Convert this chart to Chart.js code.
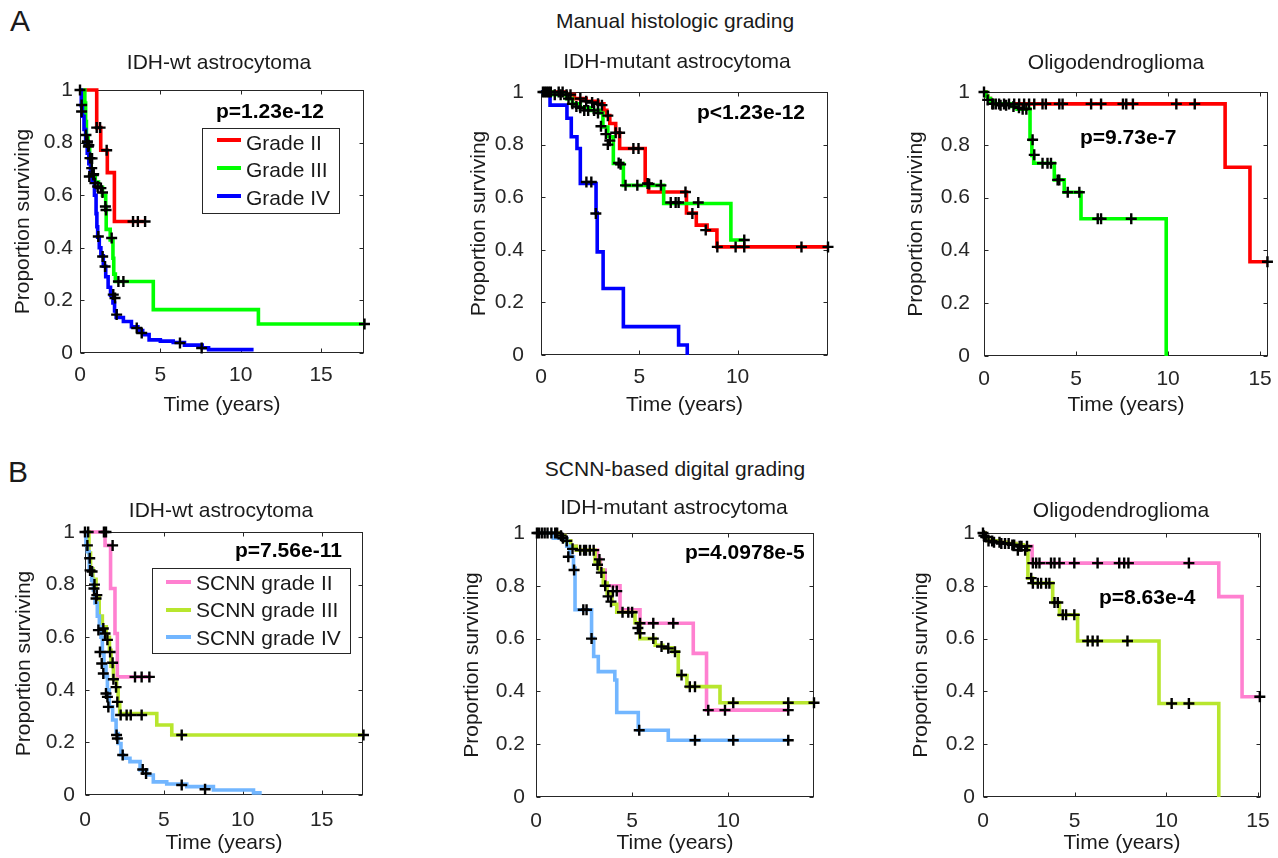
<!DOCTYPE html>
<html>
<head>
<meta charset="utf-8">
<title>Kaplan-Meier survival: manual vs SCNN grading</title>
<script src="https://cdn.jsdelivr.net/npm/chart.js@4/dist/chart.umd.min.js"></script>
<style>
  html, body { margin:0; padding:0; background:#fff; overflow:hidden; }
  #page { position:relative; width:1278px; height:858px; overflow:hidden; background:#fff;
          font-family:"Liberation Sans", Arial, Helvetica, sans-serif; color:#1a1a1a; }
  #page canvas { position:absolute; z-index:1; }
  .txt { position:absolute; white-space:nowrap; font-size:21px; line-height:21px; z-index:3; }
  .ctr { transform:translateX(-50%); }
  .bold { font-weight:bold; color:#000; }
  .big { font-size:30px; line-height:30px; }
  .legend { position:absolute; box-sizing:border-box; border:1px solid #262626; background:#fff; z-index:2; }
  .swatch { position:absolute; height:4px; z-index:3; }
</style>
</head>
<body>
<div id="page">
  <div class="txt big" style="left:10px;top:6px;">A</div>
  <div class="txt big" style="left:8px;top:457px;">B</div>
  <div class="txt ctr" style="left:675px;top:10px;">Manual histologic grading</div>
  <div class="txt ctr" style="left:675px;top:458px;">SCNN-based digital grading</div>

  <div class="txt ctr" style="left:219px;top:51px;">IDH-wt astrocytoma</div>
  <div class="txt ctr" style="left:677px;top:50px;">IDH-mutant astrocytoma</div>
  <div class="txt ctr" style="left:1116px;top:51px;">Oligodendroglioma</div>
  <div class="txt ctr" style="left:221px;top:499px;">IDH-wt astrocytoma</div>
  <div class="txt ctr" style="left:674px;top:496px;">IDH-mutant astrocytoma</div>
  <div class="txt ctr" style="left:1121px;top:499px;">Oligodendroglioma</div>

  <div class="txt bold" style="left:216px;top:100px;">p=1.23e-12</div>
  <div class="txt bold" style="left:697px;top:101px;">p&lt;1.23e-12</div>
  <div class="txt bold" style="left:1080px;top:126px;">p=9.73e-7</div>
  <div class="txt bold" style="left:235px;top:539px;">p=7.56e-11</div>
  <div class="txt bold" style="left:685px;top:541px;">p=4.0978e-5</div>
  <div class="txt bold" style="left:1099px;top:586px;">p=8.63e-4</div>

  <div class="legend" style="left:202px;top:128px;width:138px;height:86px;"></div>
  <div class="swatch" style="left:217px;top:138px;width:24px;background:#ff0000;"></div>
  <div class="swatch" style="left:217px;top:166.3px;width:24px;background:#00ff00;"></div>
  <div class="swatch" style="left:217px;top:194px;width:24px;background:#0000ff;"></div>
  <div class="txt" style="left:246px;top:132px;">Grade II</div>
  <div class="txt" style="left:246px;top:159px;">Grade III</div>
  <div class="txt" style="left:246px;top:187px;">Grade IV</div>

  <div class="legend" style="left:152px;top:568px;width:199px;height:86px;"></div>
  <div class="swatch" style="left:166px;top:579.7px;width:25px;background:#ff80d0;"></div>
  <div class="swatch" style="left:166px;top:608px;width:25px;background:#b8e62e;"></div>
  <div class="swatch" style="left:166px;top:634.7px;width:25px;background:#72b6ff;"></div>
  <div class="txt" style="left:196px;top:572px;">SCNN grade II</div>
  <div class="txt" style="left:196px;top:599px;">SCNN grade III</div>
  <div class="txt" style="left:196px;top:627px;">SCNN grade IV</div>
</div>
<script>
// ---------------- tick definitions ----------------
const xTicks = [0, 5, 10, 15];
const xTickLabels = ['0', '5', '10', '15'];
const yTicks = [0, 0.2, 0.4, 0.6, 0.8, 1];
const yTickLabels = ['0', '0.2', '0.4', '0.6', '0.8', '1'];
const xAxisTitle = 'Time (years)';
const yAxisTitle = 'Proportion surviving';

// ---------------- A: manual grading, IDH-wt astrocytoma ----------------
const A1_gradeII = [[0,1],[1.04,0.857],[1.29,0.771],[1.70,0.686],[2.14,0.5],[4.1,0.5]];
const A1_gradeII_cens = [[1.04,0.857],[1.25,0.857],[1.66,0.771],[3.3,0.5],[3.6,0.5],[4.05,0.5]];
const A1_gradeIII = [[0,1],[0.3,0.95],[0.35,0.88],[0.4,0.82],[0.5,0.78],[0.6,0.74],[0.7,0.7],[0.8,0.67],[0.95,0.65],[1.15,0.63],[1.4,0.6],[1.6,0.55],[1.63,0.47],[1.88,0.43],[2.05,0.36],[2.1,0.3],[2.2,0.272],[4.56,0.165],[11.1,0.11],[17.7,0.11]];
const A1_gradeIII_cens = [[0.45,0.8],[0.55,0.79],[0.75,0.74],[0.85,0.68],[1.1,0.633],[1.3,0.627],[1.4,0.61],[1.58,0.557],[1.62,0.544],[1.97,0.437],[2.39,0.272],[2.7,0.272],[17.7,0.11]];
const A1_gradeIV = [[0,1],[0.08,0.94],[0.15,0.9],[0.25,0.85],[0.35,0.8],[0.45,0.76],[0.55,0.72],[0.65,0.68],[0.75,0.65],[0.9,0.6],[1.0,0.53],[1.05,0.48],[1.1,0.44],[1.2,0.4],[1.3,0.37],[1.45,0.33],[1.6,0.29],[1.75,0.25],[1.9,0.22],[2.05,0.19],[2.15,0.16],[2.25,0.135],[2.7,0.12],[3.2,0.1],[3.6,0.085],[3.9,0.07],[4.3,0.05],[5.0,0.045],[5.8,0.04],[6.5,0.03],[7.6,0.02],[8.0,0.013],[10.8,0.013]];
const A1_gradeIV_cens = [[0,1],[0.1,0.943],[0.1,0.918],[0.37,0.829],[0.46,0.804],[0.52,0.785],[0.62,0.741],[0.58,0.671],[0.73,0.703],[0.83,0.677],[0.93,0.646],[1.14,0.443],[1.41,0.367],[1.56,0.329],[2.07,0.222],[2.18,0.209],[2.28,0.146],[3.53,0.095],[3.84,0.076],[6.22,0.038],[7.57,0.019]];

// ---------------- A: manual grading, IDH-mutant astrocytoma ----------------
const A2_gradeII = [[0,1],[1.2,0.99],[1.7,0.975],[2.3,0.965],[2.9,0.955],[3.2,0.93],[3.35,0.91],[3.5,0.88],[3.8,0.845],[4.0,0.785],[5.3,0.652],[5.47,0.62],[7.4,0.54],[7.9,0.494],[8.45,0.475],[8.95,0.411],[14.6,0.411]];
const A2_gradeII_cens = [[0.1,1],[0.3,1],[0.5,1],[0.9,1],[1.1,1],[1.3,0.99],[1.5,0.99],[2.0,0.975],[2.3,0.965],[2.6,0.96],[2.9,0.955],[3.1,0.95],[3.4,0.91],[3.8,0.845],[4.0,0.845],[4.7,0.785],[4.96,0.785],[5.42,0.652],[7.35,0.62],[7.7,0.538],[8.38,0.475],[8.97,0.411],[9.9,0.411],[10.34,0.411],[13.25,0.411],[14.6,0.411]];
const A2_gradeIII = [[0,1],[0.6,0.99],[1.3,0.975],[1.6,0.955],[2.0,0.94],[2.5,0.93],[3.0,0.92],[3.15,0.867],[3.4,0.83],[3.68,0.728],[4.19,0.645],[6.24,0.576],[9.66,0.437],[10.3,0.437]];
const A2_gradeIII_cens = [[0.2,1],[0.4,1],[0.7,0.99],[1.0,0.99],[1.4,0.975],[1.6,0.955],[1.8,0.945],[2.0,0.94],[2.2,0.93],[2.4,0.93],[2.7,0.93],[2.9,0.92],[3.05,0.87],[3.3,0.84],[3.4,0.8],[3.5,0.815],[3.95,0.73],[4.05,0.725],[4.3,0.645],[4.9,0.645],[5.5,0.65],[6.1,0.645],[6.6,0.58],[6.85,0.58],[7.0,0.58],[8.0,0.58],[10.34,0.437]];
const A2_gradeIV = [[0,1],[0.46,0.95],[1.32,0.9],[1.54,0.83],[1.83,0.785],[2.0,0.652],[2.8,0.54],[2.86,0.392],[3.16,0.253],[4.19,0.108],[7.0,0.038],[7.44,0]];
const A2_gradeIV_cens = [[2.31,0.658],[2.56,0.658],[2.79,0.538]];

// ---------------- A: manual grading, oligodendroglioma ----------------
const A3_gradeII = [[0,1],[0.1,0.985],[0.2,0.975],[0.35,0.965],[0.6,0.955],[13.1,0.715],[14.45,0.357],[15.4,0.357]];
const A3_gradeII_cens = [[0,1],[0.45,0.955],[0.64,0.955],[0.82,0.955],[1.09,0.955],[1.36,0.955],[1.64,0.955],[1.91,0.955],[2.18,0.955],[2.45,0.955],[2.73,0.955],[3.18,0.955],[3.36,0.955],[4.09,0.955],[4.27,0.955],[5.82,0.955],[6.36,0.955],[7.55,0.955],[7.73,0.955],[8.09,0.955],[10.45,0.955],[11.45,0.955],[15.4,0.357]];
const A3_gradeIII = [[0,1],[0.1,0.985],[0.2,0.975],[0.35,0.965],[0.6,0.955],[1.5,0.945],[1.8,0.935],[2.5,0.82],[2.6,0.76],[2.7,0.73],[3.82,0.667],[4.36,0.62],[5.27,0.52],[9.9,0]];
const A3_gradeIII_cens = [[0.2,0.97],[0.5,0.955],[0.9,0.95],[1.2,0.95],[1.6,0.945],[1.9,0.94],[2.1,0.935],[2.3,0.935],[2.64,0.819],[2.73,0.762],[3.18,0.73],[3.45,0.73],[3.64,0.73],[4.0,0.667],[4.09,0.667],[4.55,0.62],[5.18,0.62],[6.18,0.52],[6.36,0.52],[8.0,0.52]];

// ---------------- B: SCNN grading, IDH-wt astrocytoma ----------------
const B1_gradeII = [[0,1],[1.27,0.949],[1.62,0.785],[1.9,0.614],[2.05,0.449],[4.2,0.449]];
const B1_gradeII_cens = [[0,1],[0.2,1],[1.2,1],[1.33,1],[1.75,0.949],[3.17,0.449],[3.59,0.449],[4.08,0.449]];
const B1_gradeIII = [[0,1],[0.25,0.92],[0.35,0.86],[0.5,0.82],[0.7,0.75],[0.9,0.68],[1.1,0.64],[1.35,0.6],[1.55,0.55],[1.65,0.49],[1.8,0.44],[2.0,0.4],[2.1,0.35],[2.2,0.31],[4.55,0.266],[5.5,0.228],[17.65,0.228]];
const B1_gradeIII_cens = [[0.3,0.9],[0.45,0.85],[0.6,0.8],[0.75,0.76],[1.16,0.633],[1.27,0.614],[1.42,0.59],[1.59,0.544],[1.75,0.503],[1.8,0.44],[1.97,0.41],[2.05,0.354],[2.26,0.304],[2.64,0.304],[2.9,0.304],[3.59,0.304],[6.13,0.228],[17.65,0.228]];
const B1_gradeIV = [[0,1],[0.06,0.95],[0.15,0.925],[0.27,0.86],[0.42,0.816],[0.53,0.78],[0.63,0.73],[0.78,0.68],[0.91,0.64],[1.01,0.6],[1.1,0.54],[1.2,0.49],[1.33,0.45],[1.42,0.4],[1.54,0.335],[1.75,0.285],[1.97,0.234],[2.11,0.196],[2.28,0.152],[2.43,0.14],[2.85,0.127],[3.49,0.095],[3.91,0.076],[4.33,0.05],[5.18,0.042],[6.45,0.032],[8.14,0.019],[10.68,0.008],[11.2,0.008]];
const B1_gradeIV_cens = [[0.15,0.949],[0.32,0.854],[0.57,0.785],[0.7,0.747],[0.85,0.627],[0.95,0.544],[1.06,0.5],[1.16,0.462],[1.33,0.386],[1.42,0.373],[1.48,0.335],[2.0,0.228],[2.05,0.215],[2.39,0.152],[3.66,0.097],[3.87,0.082],[6.13,0.038],[7.61,0.022]];

// ---------------- B: SCNN grading, IDH-mutant astrocytoma ----------------
const B2_gradeII = [[0,1],[1.2,0.99],[1.5,0.97],[1.8,0.95],[2.1,0.935],[3.2,0.9],[3.35,0.86],[3.6,0.8],[4.37,0.709],[5.41,0.658],[8.18,0.544],[8.87,0.329],[13.12,0.329]];
const B2_gradeII_cens = [[0.05,1],[0.3,1],[0.6,1],[1.0,1],[1.3,0.99],[1.6,0.97],[2.3,0.935],[2.6,0.935],[3.0,0.935],[3.3,0.9],[4.0,0.78],[4.2,0.78],[4.8,0.7],[5.0,0.7],[5.41,0.658],[6.1,0.658],[7.14,0.658],[8.96,0.329],[9.83,0.329],[13.12,0.329]];
const B2_gradeIII = [[0,1],[1.2,0.99],[1.5,0.97],[1.8,0.95],[2.1,0.935],[3.07,0.89],[3.3,0.86],[3.5,0.81],[3.7,0.77],[3.95,0.73],[4.2,0.7],[5.15,0.66],[5.4,0.6],[6.2,0.575],[6.6,0.565],[7.1,0.55],[7.4,0.46],[7.85,0.418],[9.57,0.357],[14.46,0.357]];
const B2_gradeIII_cens = [[0.15,1],[0.45,1],[0.8,1],[1.1,1],[1.4,0.98],[1.9,0.94],[2.5,0.935],[2.8,0.935],[3.2,0.88],[3.4,0.85],[3.6,0.8],[3.75,0.76],[3.9,0.74],[4.5,0.7],[5.3,0.64],[5.41,0.62],[6.1,0.6],[6.53,0.57],[6.88,0.563],[7.23,0.55],[7.57,0.462],[8.0,0.418],[8.27,0.418],[10.26,0.357],[13.12,0.357],[14.46,0.357]];
const B2_gradeIV = [[0,1],[0.9,0.98],[1.6,0.95],[1.75,0.91],[1.95,0.867],[2.03,0.709],[2.89,0.601],[3.0,0.532],[3.24,0.475],[4.1,0.443],[4.2,0.32],[5.32,0.253],[6.88,0.215],[13.12,0.215]];
const B2_gradeIV_cens = [[1.68,0.91],[1.98,0.86],[2.46,0.709],[2.63,0.709],[2.89,0.6],[5.37,0.253],[8.27,0.215],[10.26,0.215],[13.12,0.215]];

// ---------------- B: SCNN grading, oligodendroglioma ----------------
const B3_gradeII = [[0,1],[0.1,0.98],[0.3,0.97],[0.8,0.965],[1.3,0.96],[1.8,0.955],[2.2,0.95],[2.68,0.886],[12.86,0.759],[14.13,0.38],[15.1,0.38]];
const B3_gradeII_cens = [[0,1],[0.15,0.985],[0.5,0.97],[0.9,0.965],[1.2,0.96],[1.6,0.955],[1.9,0.935],[2.0,0.95],[2.4,0.95],[2.72,0.886],[2.9,0.886],[3.08,0.886],[3.71,0.886],[3.9,0.886],[4.17,0.886],[4.98,0.886],[6.25,0.886],[7.43,0.886],[7.7,0.886],[7.93,0.886],[11.23,0.886],[15.1,0.38]];
const B3_gradeIII = [[0,1],[0.1,0.98],[0.3,0.97],[0.8,0.965],[1.3,0.96],[1.8,0.955],[2.2,0.95],[2.45,0.829],[2.7,0.81],[3.8,0.737],[4.17,0.69],[5.16,0.591],[9.6,0.354],[12.86,0]];
const B3_gradeIII_cens = [[0.05,0.99],[0.3,0.97],[0.6,0.965],[1.0,0.96],[1.4,0.96],[1.7,0.955],[2.1,0.95],[2.3,0.935],[2.63,0.829],[2.72,0.81],[2.99,0.81],[3.17,0.81],[3.44,0.81],[3.62,0.81],[3.9,0.737],[4.08,0.737],[4.35,0.69],[4.53,0.69],[4.98,0.69],[5.71,0.591],[5.98,0.591],[6.25,0.591],[7.88,0.591],[10.29,0.354],[11.23,0.354]];

// ---------------- styles ----------------
const COLORS = { II: '#ff0000', III: '#00ff00', IV: '#0000ff', sII: '#ff80d0', sIII: '#b8e62e', sIV: '#72b6ff' };
const FONT_FAMILY = '"Liberation Sans", Arial, Helvetica, sans-serif';
const FONT_SIZE = 21;
const AXIS_COLOR = '#262626';

// panel layout (page pixels): plot rect [left, top, right, bottom]
const panels = [
  { plot:[80,90,364,353],  xmax:17.67, yGap:7,  yTitleX:25,    xTickY:375.5, xTitleY:405.5,
    series:[[A1_gradeII,A1_gradeII_cens,COLORS.II],[A1_gradeIII,A1_gradeIII_cens,COLORS.III],[A1_gradeIV,A1_gradeIV_cens,COLORS.IV]] },
  { plot:[541,92,828,355], xmax:14.6,  yGap:17, yTitleX:481.7, xTickY:377.5, xTitleY:405.5,
    series:[[A2_gradeII,A2_gradeII_cens,COLORS.II],[A2_gradeIII,A2_gradeIII_cens,COLORS.III],[A2_gradeIV,A2_gradeIV_cens,COLORS.IV]] },
  { plot:[984,92,1268,356], xmax:15.43, yGap:14, yTitleX:918.3, xTickY:379, xTitleY:405.5,
    series:[[A3_gradeII,A3_gradeII_cens,COLORS.II],[A3_gradeIII,A3_gradeIII_cens,COLORS.III]] },
  { plot:[85,532,363,795], xmax:17.62, yGap:10, yTitleX:26.7,  xTickY:820, xTitleY:843,
    series:[[B1_gradeII,B1_gradeII_cens,COLORS.sII],[B1_gradeIII,B1_gradeIII_cens,COLORS.sIII],[B1_gradeIV,B1_gradeIV_cens,COLORS.sIV]] },
  { plot:[536,533,814,797], xmax:14.46, yGap:11, yTitleX:474.2, xTickY:821.7, xTitleY:843,
    series:[[B2_gradeII,B2_gradeII_cens,COLORS.sII],[B2_gradeIII,B2_gradeIII_cens,COLORS.sIII],[B2_gradeIV,B2_gradeIV_cens,COLORS.sIV]] },
  { plot:[983,533,1262,797], xmax:15.16, yGap:8, yTitleX:922.8, xTickY:821.7, xTitleY:843,
    series:[[B3_gradeII,B3_gradeII_cens,COLORS.sII],[B3_gradeIII,B3_gradeIII_cens,COLORS.sIII]] }
];

const framePlugin = {
  id: 'matlabFrame',
  beforeDatasetsDraw(chart) {
    const { ctx, chartArea: a, scales: { x, y } } = chart;
    ctx.save();
    ctx.strokeStyle = AXIS_COLOR;
    ctx.lineWidth = 1;
    const l = Math.round(a.left) + 0.5, t = Math.round(a.top) + 0.5;
    const r = Math.round(a.right) - 0.5, b = Math.round(a.bottom) - 0.5;
    ctx.strokeRect(l, t, r - l, b - t);
    const L = 4;
    ctx.beginPath();
    xTicks.forEach(v => {
      if (v > x.max) return;
      const px = Math.round(x.getPixelForValue(v)) + 0.5;
      ctx.moveTo(px, b); ctx.lineTo(px, b - L);
      ctx.moveTo(px, t); ctx.lineTo(px, t + L);
    });
    yTicks.forEach(v => {
      const py = Math.round(y.getPixelForValue(v)) + 0.5;
      ctx.moveTo(l, py); ctx.lineTo(l + L, py);
      ctx.moveTo(r, py); ctx.lineTo(r - L, py);
    });
    ctx.stroke();
    ctx.restore();
  }
};

const toXY = arr => arr.map(p => ({ x: p[0], y: p[1] }));
const page = document.getElementById('page');
const LH = FONT_SIZE * 1.2 / 2;
const LEFT_SPACE = 80, TOP_PAD = 32, RIGHT_PAD = 20;

panels.forEach(p => {
  const [pl, pt, pr, pb] = p.plot;
  const cLeft = pl - LEFT_SPACE;
  const cTop = pt - TOP_PAD;
  const cBottom = Math.round(p.xTitleY + LH + 1);
  const width = (pr - pl) + LEFT_SPACE + RIGHT_PAD;
  const height = cBottom - cTop;
  const xAxisH = cBottom - pb;
  const canvas = document.createElement('canvas');
  canvas.width = width; canvas.height = height;
  canvas.style.left = cLeft + 'px'; canvas.style.top = cTop + 'px';
  canvas.style.width = width + 'px'; canvas.style.height = height + 'px';
  page.appendChild(canvas);

  const datasets = [];
  p.series.forEach((s, i) => {
    datasets.push({
      data: toXY(s[1]), showLine: false, pointStyle: 'cross', pointRadius: 5.5, pointHoverRadius: 5.5,
      pointBorderWidth: 2.4, pointBorderColor: '#000', borderColor: '#000', order: 0, clip: false
    });
    datasets.push({
      data: toXY(s[0]), stepped: true, borderColor: s[2], borderWidth: 3.6, pointRadius: 0,
      pointHoverRadius: 0, fill: false, tension: 0, order: 3 - i, clip: false,
      borderJoinStyle: 'miter'
    });
  });

  const font = { family: FONT_FAMILY, size: FONT_SIZE };
  new Chart(canvas, {
    type: 'line',
    data: { datasets },
    plugins: [framePlugin],
    options: {
      responsive: false, animation: false, devicePixelRatio: 1, events: [],
      layout: { padding: { left: 0, top: TOP_PAD, right: RIGHT_PAD, bottom: 0 } },
      plugins: { legend: { display: false }, tooltip: { enabled: false }, title: { display: false } },
      scales: {
        x: {
          type: 'linear', min: 0, max: p.xmax,
          afterBuildTicks: sc => { sc.ticks = xTicks.filter(v => v <= p.xmax).map(v => ({ value: v })); },
          afterFit: sc => { sc.height = xAxisH; },
          grid: { display: false, drawTicks: false },
          border: { display: false },
          ticks: { font, color: AXIS_COLOR, padding: p.xTickY - pb - LH, maxRotation: 0, autoSkip: false,
                   callback: (v, i) => xTickLabels[xTicks.indexOf(v)] },
          title: { display: true, text: xAxisTitle, font, color: '#1a1a1a',
                   padding: { top: 0, bottom: Math.max(0, cBottom - p.xTitleY - LH) } }
        },
        y: {
          type: 'linear', min: 0, max: 1,
          afterBuildTicks: sc => { sc.ticks = yTicks.map(v => ({ value: v })); },
          afterFit: sc => { sc.width = LEFT_SPACE; },
          grid: { display: false, drawTicks: false },
          border: { display: false },
          ticks: { font, color: AXIS_COLOR, padding: p.yGap, autoSkip: false,
                   callback: (v, i) => yTickLabels[i] },
          title: { display: true, text: yAxisTitle, font, color: '#1a1a1a',
                   padding: { top: Math.max(0, (p.yTitleX - 2) - cLeft - LH), bottom: 0 } }
        }
      }
    }
  });
});
</script>
</body>
</html>
